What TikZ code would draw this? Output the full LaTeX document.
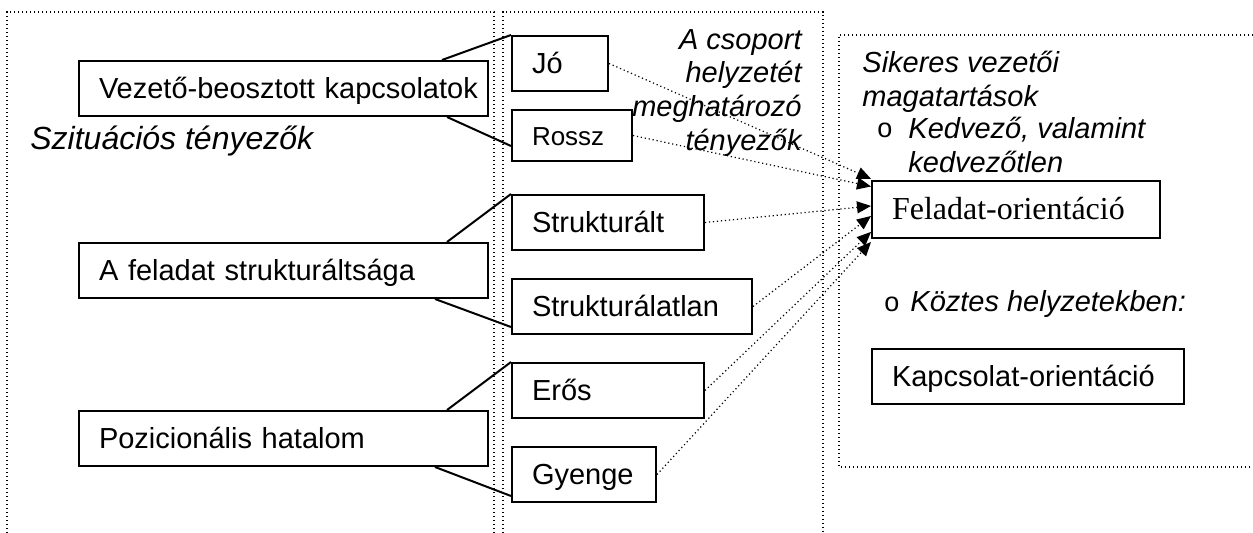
\documentclass[tikz,border=0pt]{standalone}
\usepackage{fontspec}
\setmainfont{Liberation Sans}
\newfontfamily\seriffont{Liberation Serif}
\usetikzlibrary{calc,arrows.meta,positioning}

\begin{document}
\begin{tikzpicture}[x=0.5pt,y=-0.5pt,
	factor/.style={rectangle,draw,line width=1pt,minimum height=27.5pt,inner xsep=10pt,inner ysep=0pt,
		text width=#1,align=left,text height=12pt,text depth=1.6pt,font=\fontsize{14.5}{17}\selectfont},
	frame/.style={line width=0.6pt,dash pattern=on 0.6pt off 1.4pt},
	link/.style={line width=1pt},
	effect/.style={-{Triangle[length=7pt,width=6pt]},line width=0.6pt,dash pattern=on 0.6pt off 1.4pt},
	title/.style={inner sep=0pt,font=\fontsize{14.5}{16.8}\selectfont\itshape},
	bullet/.style={inner sep=0pt,font=\fontsize{13.5}{15}\selectfont}
	]
\useasboundingbox (0,0) rectangle (1253,533);

% dotted frames
\draw [frame] (7,533) -- (7,12) -- (494,12) -- (494,533);
\draw [frame] (503,533) -- (503,12) -- (823,12) -- (823,533);
\draw [frame] (1253,35) -- (839,35) -- (839,467) -- (1253,467);

% situational factors
\node [factor=184.5pt, anchor=north west] (vb) at (78,60) {\mbox{Vezető-beosztott kapcsolatok}};
\node [factor=184.5pt, anchor=north west] (fs) at (78,242) {A feladat strukturáltsága};
\node [factor=184.5pt, anchor=north west] (ph) at (78,410) {Pozicionális hatalom};

% values of the factors
\node [factor=28pt, anchor=north west] (jo) at (511,35) {Jó};
\node [factor=40pt, minimum height=25.5pt, font=\fontsize{13}{15}\selectfont] (ro) [below=8.5pt of jo.south west, anchor=north west] {Rossz};
\node [factor=76pt, anchor=north west] (st) at (511,194) {Strukturált};
\node [factor=100pt] (sl) [below=13.5pt of st.south west, anchor=north west] {Strukturálatlan};
\node [factor=76pt, anchor=north west] (er) at (511,362) {Erős};
\node [factor=52pt] (gy) [below=13.5pt of er.south west, anchor=north west] {Gyenge};

% leader behaviours
\node [factor=124pt, minimum height=28.5pt, font=\seriffont\fontsize{16}{18}\selectfont, anchor=north west] (fo) at (871,180) {Feladat-orientáció};
\node [factor=136pt, anchor=north west] (ko) at (871,348) {Kapcsolat-orientáció};

% headings
\node [title, font=\fontsize{16}{18}\selectfont\itshape, anchor=base west] (sit) at (30,150) {Szituációs tényezők};
\node [title, align=right, anchor=north east] (grp) at (802,29) {A csoport\\helyzetét\\meghatározó\\tényezők};
\node [title, align=left, anchor=north west] (suc) at (862,51) {Sikeres vezetői\\magatartások};
\node [bullet, anchor=base west] (b1) at (877,138) {o};
\node [title, align=left, anchor=north west] (fav) at (908,117) {Kedvező, valamint\\kedvezőtlen};
\node [bullet, anchor=base west] (b2) at (884,312) {o};
\node [title, anchor=base west] (mid) at (910,312) {Köztes helyzetekben:};

% links to the factor values
\draw [link] ([xshift=-23.5pt]vb.north east) -- (jo.north west);
\draw [link] ([xshift=-21pt]vb.south east) -- ([yshift=8pt]ro.south west);
\draw [link] ([xshift=-21pt]fs.north east) -- (st.north west);
\draw [link] ([xshift=-27pt]fs.south east) -- ([yshift=4pt]sl.south west);
\draw [link] ([xshift=-21pt]ph.north east) -- (er.north west);
\draw [link] ([xshift=-27pt]ph.south east) -- ([yshift=3.5pt]gy.south west);

% arrow ends on the task box
\coordinate (t1) at ($(fo.north west)!-0.02!(fo.south west)$);
\coordinate (t2) at ($(fo.north west)!0.11!(fo.south west)$);
\coordinate (t3) at ($(fo.north west)!0.44!(fo.south west)$);
\coordinate (t4) at ($(fo.north west)!0.61!(fo.south west)$);
\coordinate (t5) at ($(fo.north west)!0.88!(fo.south west)$);
\coordinate (t6) at ($(fo.north west)!1.05!(fo.south west)$);

% dotted effects
\draw [effect] (jo.east) -- (t1);
\draw [effect] (ro.east) -- (t2);
\draw [effect] (st.east) -- (t3);
\draw [effect] (sl.east) -- (t4);
\draw [effect] (er.east) -- (t5);
\draw [effect] (gy.east) -- (t6);
\end{tikzpicture}
\end{document}
